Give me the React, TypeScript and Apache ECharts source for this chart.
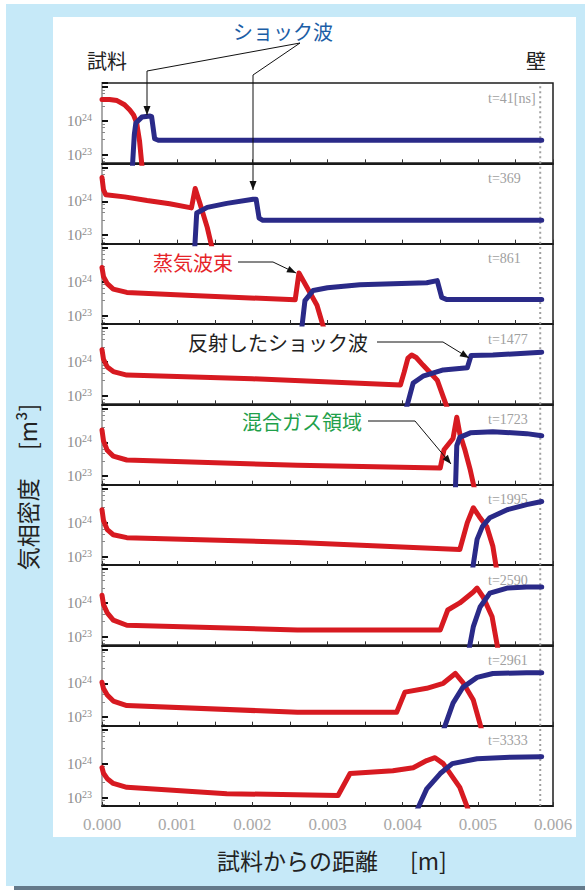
import React, { useEffect, useRef } from 'react';
import * as echarts from 'echarts';

// ---------- data (x in metres, vapour density in m^-3) ----------
const TIME_LABELS = ['t=41[ns]', 't=369', 't=861', 't=1477', 't=1723', 't=1995', 't=2590', 't=2961', 't=3333'];
const X_MIN = 0;
const X_MAX = 0.006;
const X_STEP = 0.001;
const Y_LABEL_EXPONENTS = [23, 24];
const WALL_X = 0.00583;

const red41 = [[0, 4.3e24], [0.0001, 4.3e24], [0.0002, 4.0e24], [0.0003, 3.0e24], [0.00037, 2.1e24], [0.00042, 1.5e24], [0.00046, 9e23], [0.0005, 2.5e23], [0.00054, 3e22]];
const blue41 = [[0.0004, 3e22], [0.00043, 4e23], [0.00045, 8.7e23], [0.00053, 1.3e24], [0.00064, 1.4e24], [0.00066, 1.35e24], [0.0007, 3e23], [0.00075, 2.7e23], [0.00585, 2.7e23]];

const red369 = [[0, 5e24], [0.00002, 2.2e24], [0.00005, 1.55e24], [0.0003, 1.35e24], [0.0006, 1.05e24], [0.0009, 8.5e23], [0.00119, 6.4e23], [0.00124, 2.4e24], [0.0013, 9e23], [0.0014, 1.7e23], [0.00148, 3e22]];
const blue369 = [[0.00123, 3e22], [0.00126, 4.5e23], [0.0014, 6.6e23], [0.00166, 8.7e23], [0.00201, 1.15e24], [0.00205, 1.15e24], [0.00209, 3.2e23], [0.00214, 2.75e23], [0.00585, 2.75e23]];

const red861 = [[0, 2.6e24], [0.00002, 1.4e24], [0.00007, 8.7e23], [0.00015, 6e23], [0.00033, 4.8e23], [0.0012, 3.9e23], [0.00257, 2.9e23], [0.00262, 1.8e24], [0.00273, 6.6e23], [0.00286, 2.0e23], [0.00297, 3e22]];
const blue861 = [[0.00265, 3e22], [0.0027, 2.75e23], [0.00281, 5.5e23], [0.003, 6.6e23], [0.00343, 8.1e23], [0.00432, 9.3e23], [0.00446, 1.07e24], [0.00452, 3.4e23], [0.00459, 2.95e23], [0.00585, 2.95e23]];

const red1477 = [[0, 2.3e24], [0.00002, 1.2e24], [0.00007, 7.1e23], [0.00015, 5.2e23], [0.00033, 4.1e23], [0.002, 3.2e23], [0.00397, 2.1e23], [0.00402, 5e23], [0.00407, 1.3e24], [0.00412, 1.6e24], [0.00418, 1.35e24], [0.00427, 8.1e23], [0.00446, 2.9e23], [0.00462, 3e22]];
const blue1477 = [[0.00403, 3e22], [0.00414, 2.4e23], [0.00427, 3.8e23], [0.00454, 5.8e23], [0.00486, 6.8e23], [0.00491, 1.55e24], [0.0052, 1.6e24], [0.00585, 1.95e24]];

const red1723 = [[0, 2.3e24], [0.00002, 1.1e24], [0.00007, 5.8e23], [0.00015, 3.9e23], [0.00033, 3e23], [0.0026, 2.1e23], [0.0045, 1.75e23], [0.00455, 6e23], [0.00467, 1.3e24], [0.00472, 5.5e24], [0.00476, 1.8e24], [0.00483, 5.8e23], [0.0049, 1.5e23], [0.00497, 3e22]];
const blue1723 = [[0.0047, 3e22], [0.00472, 8e23], [0.00476, 1.4e24], [0.0049, 1.9e24], [0.0052, 2.05e24], [0.00565, 1.8e24], [0.00585, 1.55e24]];

const red1995 = [[0, 2.4e24], [0.00002, 1.15e24], [0.00007, 6.2e23], [0.00015, 4.4e23], [0.00033, 3.6e23], [0.0026, 2.6e23], [0.00476, 1.6e23], [0.00486, 1e24], [0.00494, 2.75e24], [0.00502, 1.5e24], [0.00512, 7.6e23], [0.0052, 2e23], [0.00526, 3e22]];
const blue1995 = [[0.00492, 3e22], [0.00499, 3.2e23], [0.00506, 7.6e23], [0.00516, 1.4e24], [0.00539, 2.4e24], [0.00565, 3.4e24], [0.00585, 4.2e24]];

const red2590 = [[0, 1.7e24], [0.00002, 9e23], [0.00007, 5.1e23], [0.00015, 3.1e23], [0.00033, 2.2e23], [0.0026, 1.6e23], [0.0045, 1.6e23], [0.0046, 6.2e23], [0.00476, 1e24], [0.00494, 2.1e24], [0.00499, 2.75e24], [0.00507, 1.5e24], [0.00519, 3.9e23], [0.00528, 3e22]];
const blue2590 = [[0.00487, 3e22], [0.00494, 2e23], [0.00503, 7.6e23], [0.00516, 1.95e24], [0.00539, 2.75e24], [0.00565, 2.95e24], [0.00585, 2.95e24]];

const red2961 = [[0, 1.07e24], [0.00002, 7e23], [0.00007, 4.5e23], [0.00015, 3e23], [0.00033, 2.2e23], [0.0026, 1.4e23], [0.00392, 1.4e23], [0.00403, 5.5e23], [0.00432, 7.1e23], [0.00454, 1e24], [0.0047, 1.95e24], [0.0048, 1.07e24], [0.00494, 3.2e23], [0.00507, 3e22]];
const blue2961 = [[0.00452, 3e22], [0.00467, 2.6e23], [0.0048, 7.6e23], [0.00499, 1.5e24], [0.0052, 1.95e24], [0.00565, 2.05e24], [0.00585, 2.05e24]];

const red3333 = [[0, 7.6e23], [0.00002, 5.2e23], [0.00007, 3.6e23], [0.00015, 2.6e23], [0.00033, 2e23], [0.00166, 1.3e23], [0.00314, 1.15e23], [0.0033, 5.1e23], [0.00387, 6.2e23], [0.00414, 7.6e23], [0.00432, 1.23e24], [0.00443, 1.5e24], [0.00454, 1e24], [0.00476, 2e23], [0.0049, 3e22]];
const blue3333 = [[0.00416, 3e22], [0.00432, 1.8e23], [0.0045, 5.1e23], [0.00466, 1e24], [0.00499, 1.4e24], [0.00543, 1.55e24], [0.00585, 1.6e24]];

const REDS = [red41, red369, red861, red1477, red1723, red1995, red2590, red2961, red3333];
const BLUES = [blue41, blue369, blue861, blue1477, blue1723, blue1995, blue2590, blue2961, blue3333];

// ---------- layout / style ----------
const W = 585;
const H = 890;
const PLOT_LEFT = 102;
const PLOT_RIGHT = 553;
const PLOT_TOP = 83;
const PLOT_BOTTOM = 806;
const N = TIME_LABELS.length;
const PANEL_H = (PLOT_BOTTOM - PLOT_TOP) / N;
const Y_MIN = Math.pow(10, 22.75);
const Y_MAX = Math.pow(10, 25.12);
const RED = '#d71a21';
const BLUE = '#2a2a88';
const CJK = '"Noto Sans CJK JP", "Noto Sans", sans-serif';
const SERIF = '"Liberation Serif", "DejaVu Serif", serif';

function arrowHead(tip: number[], from: number[], len = 9, half = 3.5) {
  const dx = tip[0] - from[0];
  const dy = tip[1] - from[1];
  const d = Math.hypot(dx, dy);
  const ux = dx / d;
  const uy = dy / d;
  const bx = tip[0] - ux * len;
  const by = tip[1] - uy * len;
  return [tip, [bx - uy * half, by + ux * half], [bx + uy * half, by - ux * half]];
}

const ARROWS = [
  [[300, 43], [147, 71], [147, 115]],
  [[300, 43], [253, 75], [253, 190]],
  [[238, 262], [273, 262], [296, 273]],
  [[377, 342], [443, 342], [469, 358]],
  [[368, 421], [415, 421], [451, 464]],
];

function buildOption() {
  const grid: any[] = [];
  const xAxis: any[] = [];
  const yAxis: any[] = [];
  const series: any[] = [];
  const graphic: any[] = [];

  // backgrounds
  graphic.push({ type: 'rect', z: -20, silent: true, shape: { x: 14, y: 10, width: W - 14, height: H - 10 }, style: { fill: '#64798a' } });
  graphic.push({ type: 'rect', z: -19, silent: true, shape: { x: 6, y: 4, width: W - 6, height: 882 }, style: { fill: '#c6e9f8' } });
  graphic.push({ type: 'rect', z: -18, silent: true, shape: { x: 53, y: 17, width: 523, height: 820 }, style: { fill: '#ffffff' } });

  for (let i = 0; i < N; i++) {
    const top = PLOT_TOP + i * PANEL_H;
    grid.push({
      left: PLOT_LEFT,
      width: PLOT_RIGHT - PLOT_LEFT,
      top,
      height: PANEL_H,
      show: true,
      borderColor: '#1e1e1e',
      borderWidth: 1.5,
      backgroundColor: 'transparent',
    });
    xAxis.push({
      type: 'value',
      gridIndex: i,
      min: X_MIN,
      max: X_MAX,
      interval: X_STEP,
      axisLine: { show: true, lineStyle: { color: '#1a1a1a', width: 2 } },
      axisTick: { show: true, inside: true, length: 4, lineStyle: { color: '#333' } },
      minorTick: { show: true, splitNumber: 2, length: 4, lineStyle: { color: '#333' } },
      splitLine: { show: false },
      axisLabel: {
        show: i === N - 1,
        formatter: (v: number) => v.toFixed(3),
        color: '#a8a8a8',
        fontFamily: SERIF,
        fontSize: 17,
        margin: 10,
      },
    });
    yAxis.push({
      type: 'log',
      logBase: 10,
      gridIndex: i,
      min: Y_MIN,
      max: Y_MAX,
      axisLine: { show: true, lineStyle: { color: '#aaaaaa', width: 2 } },
      axisTick: { show: true, inside: true, length: 6, lineStyle: { color: '#111', width: 2 } },
      minorTick: { show: true, splitNumber: 5, length: 3, lineStyle: { color: '#888' } },
      splitLine: { show: false },
      axisLabel: {
        color: '#8c8c8c',
        fontFamily: SERIF,
        fontSize: 15,
        margin: 10,
        formatter: (v: number) => {
          const l = Math.log10(v);
          const e = Math.round(l);
          if (Math.abs(l - e) < 1e-6 && Y_LABEL_EXPONENTS.includes(e)) return `10{sup|${e}}`;
          return '';
        },
        rich: {
          sup: { fontSize: 10, fontFamily: SERIF, color: '#8c8c8c', verticalAlign: 'top', padding: [0, 0, 7, 0] },
        },
      },
    });

    const common = { type: 'line', xAxisIndex: i, yAxisIndex: i, symbol: 'none', showSymbol: false, silent: true, clip: true, animation: false };
    // dotted wall line
    series.push({
      ...common,
      name: `wall-${i}`,
      data: [[WALL_X, Y_MIN], [WALL_X, Y_MAX]],
      z: 1,
      lineStyle: { color: '#a0a0a0', width: 2, type: [2, 3] },
    });
    series.push({ ...common, name: `red-${i}`, data: REDS[i], z: 3, lineStyle: { color: RED, width: 5, join: 'round', cap: 'round' } });
    series.push({ ...common, name: `blue-${i}`, data: BLUES[i], z: 5, lineStyle: { color: BLUE, width: 5, join: 'round', cap: 'round' } });

    graphic.push({
      type: 'text',
      silent: true,
      style: { x: 488, y: top + 15, text: TIME_LABELS[i], fill: '#a0a0a0', font: `14px ${SERIF}`, align: 'left', verticalAlign: 'middle' },
    });
  }

  // annotation arrows
  ARROWS.forEach((pts) => {
    const n = pts.length;
    const head = arrowHead(pts[n - 1], pts[n - 2]);
    graphic.push({ type: 'polyline', silent: true, z: 50, shape: { points: pts }, style: { stroke: '#111', lineWidth: 1, fill: 'none' } });
    graphic.push({ type: 'polygon', silent: true, z: 50, shape: { points: head }, style: { fill: '#111' } });
  });

  const txt = (text: string, x: number, y: number, fill: string, size: number, align = 'left') => ({
    type: 'text',
    silent: true,
    z: 50,
    style: { x, y, text, fill, font: `${size}px ${CJK}`, align, verticalAlign: 'middle' },
  });

  graphic.push(txt('ショック波', 283, 31, '#1b5ea6', 20, 'center'));
  graphic.push(txt('試料', 87, 60, '#222', 20));
  graphic.push(txt('壁', 546, 60, '#222', 20, 'right'));
  graphic.push(txt('蒸気波束', 153, 262, '#e62328', 20));
  graphic.push(txt('反射したショック波', 188, 342, '#222', 20));
  graphic.push(txt('混合ガス領域', 242, 421, '#1fa04a', 20));
  graphic.push(txt('試料からの距離', 217, 860, '#222', 23));
  graphic.push(txt('[m]', 410, 860, '#222', 23));
  graphic.push({
    type: 'text',
    silent: true,
    z: 50,
    x: 27,
    y: 487,
    rotation: Math.PI / 2,
    style: { x: 0, y: 0, text: '気相密度\u3000 [m³]', fill: '#222', font: `23px ${CJK}`, align: 'center', verticalAlign: 'middle' },
  });

  return {
    animation: false,
    backgroundColor: 'transparent',
    grid,
    xAxis,
    yAxis,
    series,
    graphic: { elements: graphic },
  };
}

export default function App() {
  const ref = useRef<HTMLDivElement>(null);
  useEffect(() => {
    if (!ref.current) return;
    const chart = echarts.init(ref.current, null, { renderer: 'svg', width: W, height: H });
    chart.setOption(buildOption() as any);
    return () => chart.dispose();
  }, []);
  return <div ref={ref} style={{ position: 'absolute', left: 0, top: 0, width: W, height: H }} />;
}
